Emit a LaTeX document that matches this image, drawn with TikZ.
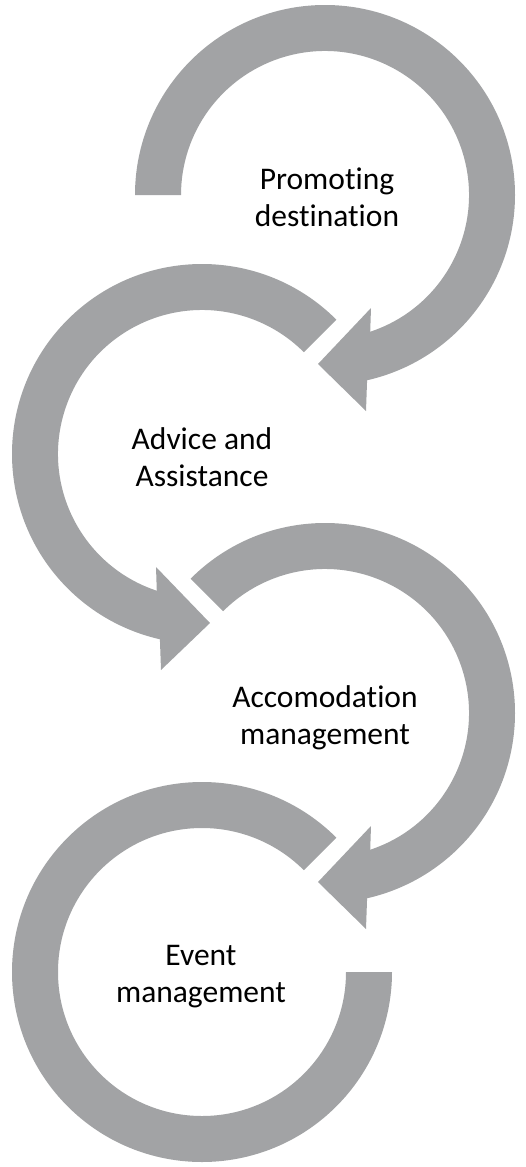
\documentclass[tikz,border=0pt]{standalone}
\usepackage{fontspec}
\setmainfont{Carlito}[Ligatures=CommonOff]
\definecolor{ringgray}{RGB}{162,163,165}
\begin{document}
\begin{tikzpicture}
[x=1pt,y=1pt,
  ringdecorate/.style={fill=ringgray,draw=none},%
  labeldecorate/.style={align=center,anchor=base,inner sep=0pt,font=\fontsize{31.5}{36.5}\selectfont}]
\useasboundingbox (0,0) rectangle (526,-1167);
% centres of the rings
\coordinate (c1) at (325,-195);
\coordinate (c2) at (202,-454);
\coordinate (c3) at (325,-713);
\coordinate (c4) at (202,-972);
% rings with arrow heads
\begin{scope}[shift={(c1)}]
\fill[ringdecorate] (180:190) arc[start angle=180,end angle=-77.2,radius=190]
  -- (41,-216) -- (-7,-169) -- (46,-113) -- (-71.7:144)
  arc[start angle=-71.7,end angle=180,radius=144] -- cycle;
\end{scope}
\begin{scope}[shift={(c2)}]
\fill[ringdecorate] (45:190) arc[start angle=45,end angle=257.2,radius=190]
  -- (-41,-216) -- (8,-169) -- (-46,-113) -- (251.7:144)
  arc[start angle=251.7,end angle=45,radius=144] -- cycle;
\end{scope}
\begin{scope}[shift={(c3)}]
\fill[ringdecorate] (135:190) arc[start angle=135,end angle=-77.2,radius=190]
  -- (41,-216) -- (-7,-169) -- (46,-113) -- (-71.7:144)
  arc[start angle=-71.7,end angle=135,radius=144] -- cycle;
\end{scope}
\begin{scope}[shift={(c4)}]
\fill[ringdecorate] (45:190) arc[start angle=45,end angle=360,radius=190]
  -- (360:144)
  arc[start angle=360,end angle=45,radius=144] -- cycle;
\end{scope}
% labels
\node (promo) at (327,-226) [labeldecorate] {Promoting\\destination};
\node (advice) at (202,-486) [labeldecorate] {Advice and\\Assistance};
\node (accom) at (325,-744) [labeldecorate] {Accomodation\\management};
\node (event) at (201,-1002) [labeldecorate] {Event\\management};
\end{tikzpicture}
\end{document}
